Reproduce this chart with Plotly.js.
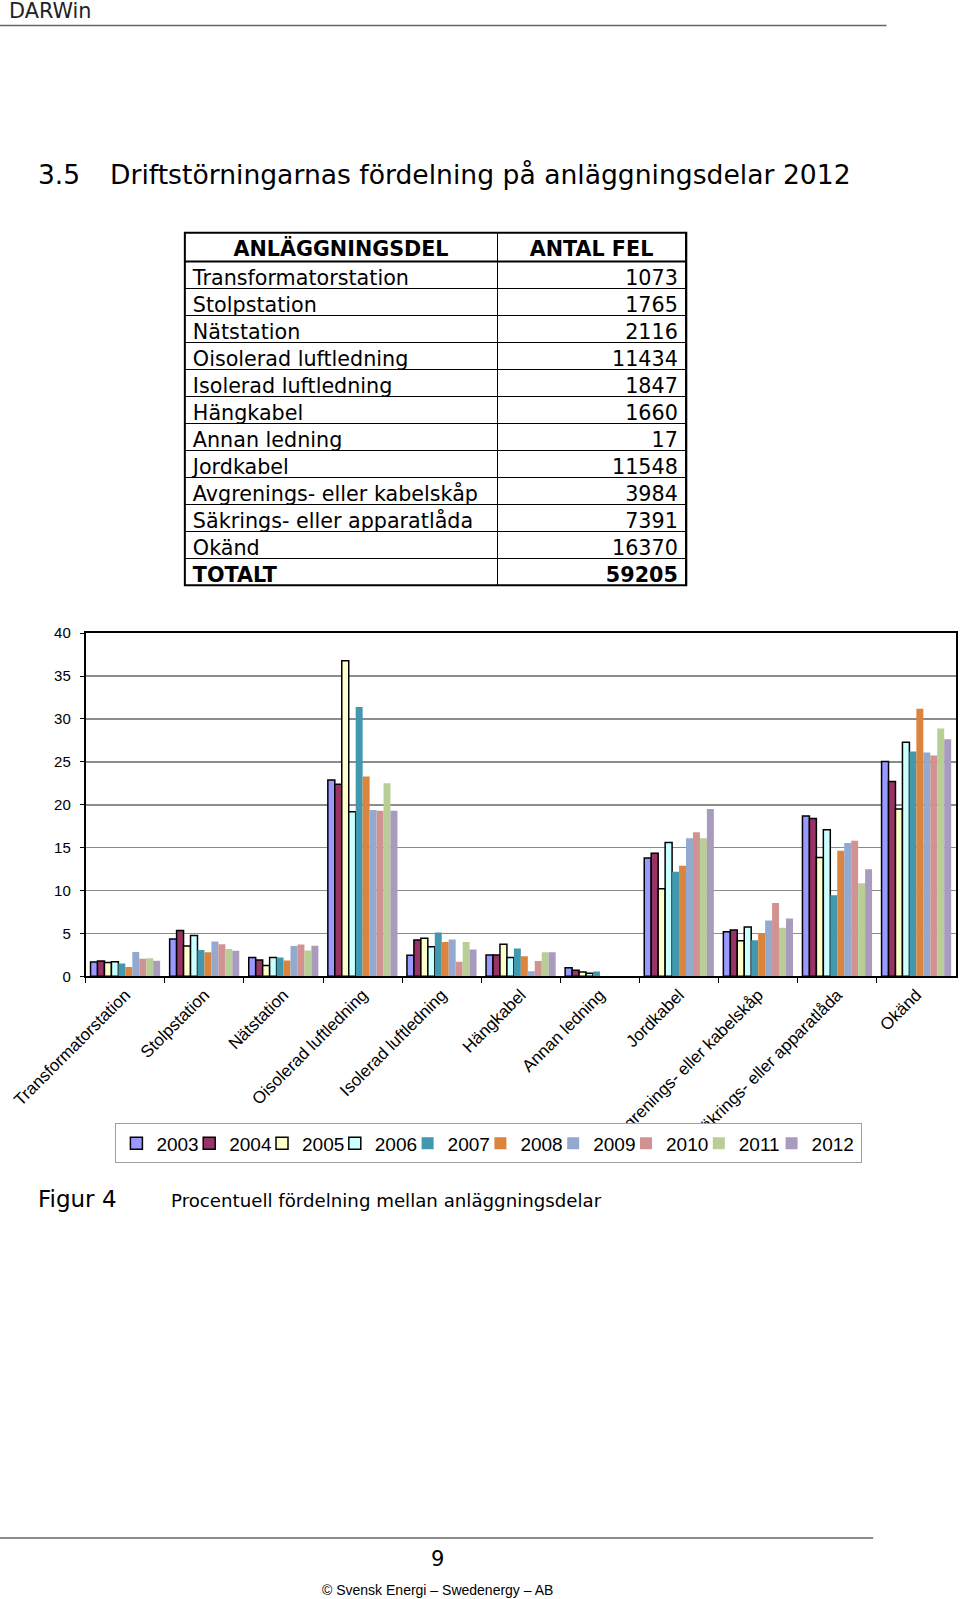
<!DOCTYPE html>
<html><head><meta charset="utf-8">
<script src="https://cdn.plot.ly/plotly-3.0.1.min.js"></script>
<style>html,body{margin:0;padding:0;background:#fff}#page{width:960px;height:1599px}</style>
</head><body><div id="page"></div>
<script>
// ---- data ----
const categories = ['Transformatorstation','Stolpstation','Nätstation','Oisolerad luftledning','Isolerad luftledning','Hängkabel','Annan ledning','Jordkabel','Avgrenings- eller kabelskåp','Säkrings- eller apparatlåda','Okänd'];
const counts = [1073,1765,2116,11434,1847,1660,17,11548,3984,7391,16370];
const totalLabel = 'TOTALT';
const totalCount = 59205;
const tableHeaders = ['ANLÄGGNINGSDEL','ANTAL FEL'];

const years = ['2003','2004','2005','2006','2007','2008','2009','2010','2011','2012'];
const v2003 = [1.67,4.35,2.2,22.9,2.45,2.5,1.0,13.8,5.2,18.7,25.05];
const v2004 = [1.8,5.35,1.9,22.4,4.25,2.5,0.7,14.35,5.4,18.4,22.7];
const v2005 = [1.6,3.55,1.25,36.8,4.45,3.75,0.5,10.2,4.15,13.85,19.5];
const v2006 = [1.7,4.75,2.2,19.2,3.45,2.2,0.35,15.6,5.75,17.1,27.3];
const v2007 = [1.5,3.07,2.2,31.4,5.1,3.25,0.55,12.2,4.2,9.45,26.2];
const v2008 = [1.1,2.8,1.85,23.3,4.0,2.35,0.05,12.9,5.05,14.65,31.2];
const v2009 = [2.85,4.05,3.55,19.4,4.3,0.6,0.03,16.1,6.5,15.55,26.1];
const v2010 = [2.05,3.75,3.7,19.3,1.7,1.8,0.03,16.8,8.55,15.8,25.75];
const v2011 = [2.1,3.2,3.0,22.5,4.0,2.8,0.02,16.1,5.65,10.85,28.9];
const v2012 = [1.81,2.98,3.57,19.31,3.12,2.80,0.03,19.51,6.73,12.48,27.65];
const seriesValues = [v2003,v2004,v2005,v2006,v2007,v2008,v2009,v2010,v2011,v2012];

const yearColors = ['#9999FF','#993366','#FFFFCC','#CCFFFF','#4198AF','#DB843D','#93A9CF','#D19392','#B9CD96','#A99BBD'];
const outlined = [true,true,true,true,false,false,false,false,false,false];

// ---- helpers ----
const W = 960, H = 1599;
const K = 960 / 940;           // page measurements were taken at 940px width
const px = x => (x * K) / W;
const py = y => 1 - (y * K) / H;
const nb = s => s.replace(/ /g, '\u00a0');

// ---- traces ----
const traces = [];

const col1 = categories.map(nb).concat([totalLabel]);
const col2 = counts.map(String).concat([String(totalCount)]);
const weights = categories.map(() => 400).concat([700]);
const tableTop = 228, tableHeadBottom = 256, tableBottom = 573;
traces.push({
  type: 'table',
  domain: {x: [px(181), px(672)], y: [py(tableBottom + 1), py(tableTop)]},
  columnwidth: [306, 185],
  header: {
    values: tableHeaders.map(nb),
    align: 'center',
    height: (tableHeadBottom - tableTop) * K,
    line: {color: '#000', width: 1},
    fill: {color: '#fff'},
    font: {family: 'DejaVu Sans', size: 20.7, color: '#000', weight: 700}
  },
  cells: {
    values: [col1, col2],
    align: ['left', 'right'],
    height: (tableBottom - tableHeadBottom) * K / 12,
    line: {color: '#000', width: 1},
    fill: {color: '#fff'},
    font: {family: 'DejaVu Sans', size: 20.7, color: '#000', weight: [weights, weights]}
  }
});

years.forEach((yr, i) => {
  const t = {
    type: 'bar',
    name: yr,
    x: categories,
    y: seriesValues[i],
    xaxis: 'x', yaxis: 'y',
    marker: {
      color: yearColors[i],
      line: {color: '#000', width: outlined[i] ? 1.5 : 0}
    },
    hoverinfo: 'skip'
  };
  if (i === years.length - 1) t.legendwidth = 44;
  traces.push(t);
});

const layout = {
  width: W, height: H,
  margin: {l: 0, r: 0, t: 0, b: 0},
  paper_bgcolor: '#fff',
  plot_bgcolor: '#fff',
  barmode: 'group',
  bargap: 0.12,
  bargroupgap: 0,
  font: {family: 'Liberation Sans, Arial, sans-serif', color: '#000'},
  xaxis: {
    domain: [px(84), Math.min(1, px(936))],
    type: 'category',
    tickangle: -45,
    tickfont: {family: 'Liberation Sans, Arial', size: 17, color: '#000'},
    showline: true, mirror: true, linecolor: '#000', linewidth: 2,
    ticks: 'outside', tickson: 'boundaries', ticklen: 5, tickcolor: '#000', tickwidth: 1,
    showgrid: false, zeroline: false, fixedrange: true, anchor: 'y'
  },
  yaxis: {
    domain: [py(956), py(620)],
    range: [0, 40], dtick: 5, tick0: 0,
    showgrid: true, gridcolor: '#8c8c8c', gridwidth: 1.5,
    showline: true, mirror: true, linecolor: '#000', linewidth: 2,
    ticks: 'outside', ticklen: 4, tickcolor: '#000',
    ticklabelstandoff: 6,
    tickfont: {family: 'Liberation Sans, Arial', size: 15, color: '#000'},
    zeroline: false, fixedrange: true, anchor: 'x'
  },
  showlegend: true,
  legend: {
    orientation: 'h',
    x: px(113), y: py(1100), xanchor: 'left', yanchor: 'top',
    bordercolor: '#a0a0a0', borderwidth: 1, bgcolor: '#fff',
    font: {family: 'Liberation Sans, Arial', size: 19, color: '#000'},
    entrywidth: 27.8, entrywidthmode: 'pixels',
    traceorder: 'normal'
  },
  shapes: [
    {type: 'rect', xref: 'paper', yref: 'paper', x0: 0, x1: 1, y0: py(1150), y1: py(1101), fillcolor: '#fff', line: {width: 0}, layer: 'above'},
    {type: 'rect', xref: 'paper', yref: 'paper', x0: px(181), x1: px(672), y0: py(tableBottom), y1: py(tableTop), line: {color: '#000', width: 2}, layer: 'above'},
    {type: 'line', xref: 'paper', yref: 'paper', x0: px(181), x1: px(672), y0: py(tableHeadBottom), y1: py(tableHeadBottom), line: {color: '#000', width: 2}, layer: 'above'},
    {type: 'line', xref: 'paper', yref: 'paper', x0: 0, x1: px(868), y0: py(25), y1: py(25), line: {color: '#666', width: 1.5}},
    {type: 'line', xref: 'paper', yref: 'paper', x0: 0, x1: px(855), y0: py(1506), y1: py(1506), line: {color: '#666', width: 1.5}}
  ],
  annotations: [
    {text: 'DARWin', xref: 'paper', yref: 'paper', x: px(7), y: py(11), xanchor: 'left', yanchor: 'middle', showarrow: false, font: {family: 'DejaVu Sans', size: 20.8, color: '#222'}},
    {text: '3.5', xref: 'paper', yref: 'paper', x: px(35), y: py(171), xanchor: 'left', yanchor: 'middle', showarrow: false, font: {family: 'DejaVu Sans', size: 26.5, color: '#000'}},
    {text: 'Driftstörningarnas fördelning på anläggningsdelar 2012', xref: 'paper', yref: 'paper', x: px(105.5), y: py(171), xanchor: 'left', yanchor: 'middle', showarrow: false, font: {family: 'DejaVu Sans', size: 26.6, color: '#000'}},
    {text: 'Figur 4', xref: 'paper', yref: 'paper', x: px(35.5), y: py(1174), xanchor: 'left', yanchor: 'middle', showarrow: false, font: {family: 'DejaVu Sans', size: 23, color: '#000'}},
    {text: 'Procentuell fördelning mellan anläggningsdelar', xref: 'paper', yref: 'paper', x: px(165.5), y: py(1175), xanchor: 'left', yanchor: 'middle', showarrow: false, font: {family: 'DejaVu Sans', size: 18.2, color: '#000'}},
    {text: '9', xref: 'paper', yref: 'paper', x: px(428), y: py(1527), xanchor: 'center', yanchor: 'middle', showarrow: false, font: {family: 'DejaVu Sans', size: 21, color: '#000'}},
    {text: '© Svensk Energi – Swedenergy – AB', xref: 'paper', yref: 'paper', x: px(428), y: py(1557), xanchor: 'center', yanchor: 'middle', showarrow: false, font: {family: 'Liberation Sans, Arial', size: 14, color: '#000'}}
  ]
};

Plotly.newPlot('page', traces, layout, {staticPlot: true, displayModeBar: false});
</script>
</body></html>
